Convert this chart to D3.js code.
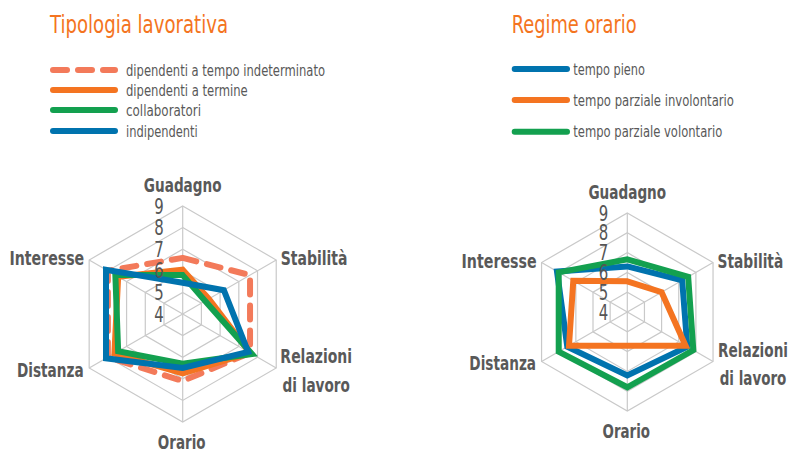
<!DOCTYPE html>
<html>
<head>
<meta charset="utf-8">
<script src="https://cdn.jsdelivr.net/npm/d3@7"></script>
<style>
  body { margin: 0; background: #fff; }
  svg { display: block; }
  text { font-family: 'Liberation Sans Narrow', 'DejaVu Sans Condensed', 'Roboto', sans-serif; }
</style>
</head>
<body>
<div id="root"></div>
<script>
// radar axes, clockwise from the top
const axes = ["Guadagno", "Stabilità", "Relazioni di lavoro", "Orario", "Distanza", "Interesse"];
const tickValues = [4, 5, 6, 7, 8, 9];

// Tipologia lavorativa
const tipologiaNames = ["dipendenti a tempo indeterminato", "dipendenti a termine", "collaboratori", "indipendenti"];
const indeterminato = [6.6, 7.6, 7.6, 7.1, 8.0, 8.0];
const aTermine = [6.05, 5.4, 7.6, 6.75, 7.65, 7.45];
const collaboratori = [5.8, 5.2, 7.7, 6.3, 7.45, 7.6];
const indipendenti = [5.45, 6.2, 7.5, 6.5, 8.1, 8.1];

// Regime orario
const regimeNames = ["tempo pieno", "tempo parziale involontario", "tempo parziale volontario"];
const tempoPieno = [6.3, 7.2, 7.5, 7.2, 7.5, 8.1];
const parzialeInvolontario = [5.55, 6.0, 7.4, 5.7, 7.4, 7.15];
const parzialeVolontario = [6.66, 7.55, 7.85, 7.8, 8.0, 8.0];

const C_DASH = "#f37a5a", C_ORANGE = "#f47421", C_GREEN = "#13a04f", C_BLUE = "#0073ae";
const GREY_TEXT = "#595959", GRID = "#c9c9c9";

const svg = d3.select("#root").append("svg")
  .attr("width", 791)
  .attr("height", 451);

// squeeze text to the measured width of the condensed original font
function txt(g, s, x, y, opt) {
  const t = g.append("text")
    .attr("x", x).attr("y", y)
    .attr("text-anchor", opt.anchor || "start")
    .attr("font-size", opt.size)
    .attr("font-weight", opt.weight || "normal")
    .attr("fill", opt.fill || GREY_TEXT)
    .text(s);
  if (opt.w) t.attr("textLength", opt.w).attr("lengthAdjust", "spacingAndGlyphs");
  return t;
}

function radar(cfg) {
  const g = svg.append("g").attr("transform", "translate(" + cfg.cx + "," + cfg.cy + ")");
  const r = d3.scaleLinear().domain([4, 9]).range([0, cfg.R]);
  const ang = d3.scalePoint().domain(axes).range([0, 2 * Math.PI * 5 / 6]);
  const pt = (a, v) => [r(v) * Math.sin(ang(a)), -r(v) * Math.cos(ang(a))];

  const radial = d3.lineRadial()
    .angle((d, i) => ang(axes[i]))
    .radius(d => r(d))
    .curve(d3.curveLinearClosed);

  // grid rings + spokes
  g.selectAll(".ring").data(tickValues.slice(1)).enter().append("path")
    .attr("d", v => radial(axes.map(() => v)))
    .attr("fill", "none").attr("stroke", GRID).attr("stroke-width", 1.2);
  g.selectAll(".spoke").data(axes).enter().append("line")
    .attr("x1", 0).attr("y1", 0)
    .attr("x2", a => pt(a, 9)[0]).attr("y2", a => pt(a, 9)[1])
    .attr("stroke", GRID).attr("stroke-width", 1.2);

  // series
  cfg.series.forEach(s => {
    g.append("path")
      .attr("d", radial(s.values))
      .attr("fill", "none")
      .attr("stroke", s.color)
      .attr("stroke-width", 6)
      .attr("stroke-linejoin", s.dash ? "round" : "miter")
      .attr("stroke-linecap", "round")
      .attr("stroke-dasharray", s.dash || null);
  });

  // tick labels
  tickValues.forEach(v => {
    txt(g, v, -19, -r(v) + 7.5, { anchor: "end", size: 21, w: 9.5, fill: "#555" });
  });

  // axis labels
  const lw = cfg.labelW;
  let p = pt("Guadagno", 9);
  txt(g, "Guadagno", p[0], p[1] - 14.5, { anchor: "middle", size: 20, weight: "bold", w: lw[0] });
  p = pt("Stabilità", 9);
  txt(g, "Stabilità", p[0] + 4.5, p[1] + 5, { anchor: "start", size: 20, weight: "bold", w: lw[1] });
  p = pt("Relazioni di lavoro", 9);
  txt(g, "Relazioni", p[0] + 40, p[1] - 4.7, { anchor: "middle", size: 20, weight: "bold", w: lw[2] });
  txt(g, "di lavoro", p[0] + 40, p[1] + 23.5, { anchor: "middle", size: 20, weight: "bold", w: lw[3] });
  p = pt("Orario", 9);
  txt(g, "Orario", p[0] - 1, p[1] + 27, { anchor: "middle", size: 20, weight: "bold", w: lw[4] });
  p = pt("Distanza", 9);
  txt(g, "Distanza", p[0] - 5.5, p[1] + 8.5, { anchor: "end", size: 20, weight: "bold", w: lw[5] });
  p = pt("Interesse", 9);
  txt(g, "Interesse", p[0] - 5, p[1] + 5, { anchor: "end", size: 20, weight: "bold", w: lw[6] });
}

function legend(cfg) {
  const g = svg.append("g");
  txt(g, cfg.title, cfg.x, 33, { size: 25, fill: C_ORANGE, w: cfg.titleW });
  cfg.series.forEach((s, i) => {
    const y = cfg.rows[i];
    g.append("line")
      .attr("x1", cfg.x + 3).attr("x2", cfg.lineEnd - 3)
      .attr("y1", y).attr("y2", y)
      .attr("stroke", s.color).attr("stroke-width", 6)
      .attr("stroke-linecap", "round")
      .attr("stroke-dasharray", s.dash || null);
    txt(g, s.name, cfg.textX, y + 5.5, { size: 15, w: cfg.textW[i] });
  });
}

const tipologia = [
  { name: tipologiaNames[0], values: indeterminato, color: C_DASH, dash: "14 11" },
  { name: tipologiaNames[1], values: aTermine, color: C_ORANGE },
  { name: tipologiaNames[2], values: collaboratori, color: C_GREEN },
  { name: tipologiaNames[3], values: indipendenti, color: C_BLUE }
];
const regime = [
  { name: regimeNames[0], values: tempoPieno, color: C_BLUE },
  { name: regimeNames[1], values: parzialeInvolontario, color: C_ORANGE },
  { name: regimeNames[2], values: parzialeVolontario, color: C_GREEN }
];

radar({ cx: 182.7, cy: 314, R: 108, series: tipologia,
        labelW: [77.7, 66.7, 71.7, 67.3, 47.7, 66.7, 74.7] });
radar({ cx: 627.3, cy: 312, R: 99, series: regime,
        labelW: [77.7, 65.7, 70, 66.7, 47.4, 66.7, 75] });

legend({ title: "Tipologia lavorativa", x: 50, titleW: 178, series: tipologia,
         lineEnd: 118, textX: 126, rows: [70, 90, 110, 131], textW: [199, 121.7, 75, 71.7] });
legend({ title: "Regime orario", x: 511.7, titleW: 125, series: regime,
         lineEnd: 570, textX: 573.3, rows: [69, 100, 131.7], textW: [71.7, 160.7, 149] });
</script>
</body>
</html>
